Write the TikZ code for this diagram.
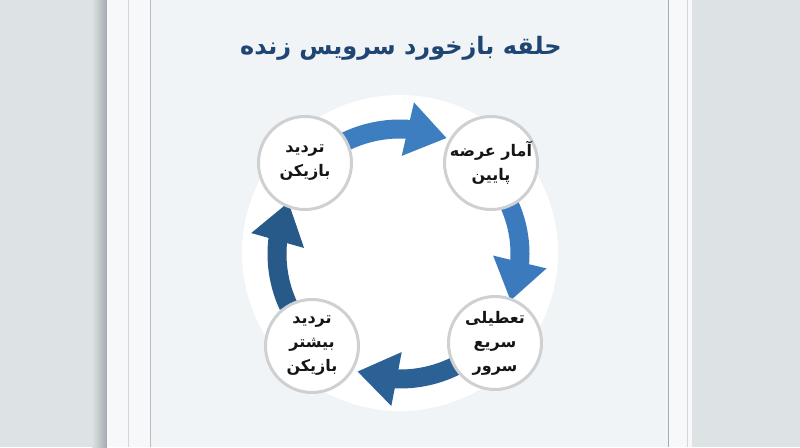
\documentclass[tikz,border=0pt]{standalone}
\usepackage{fontspec}
\newfontfamily\fa[Script=Arabic]{DejaVu Sans}
\TeXXeTstate=1
\usetikzlibrary{arrows.meta,bending}
\definecolor{bgc}{HTML}{DDE2E5}
\definecolor{shadowc}{HTML}{A3A9AE}
\definecolor{framec}{HTML}{F6F8F9}
\definecolor{panelc}{HTML}{F0F4F6}
\definecolor{lineA}{HTML}{D3D8DB}
\definecolor{lineB}{HTML}{B9BEC2}
\definecolor{lineC}{HTML}{A6ABAF}
\definecolor{titlec}{HTML}{1F4673}
\definecolor{ringc}{HTML}{CFD0D2}
\definecolor{txtc}{HTML}{151515}
\definecolor{arA}{HTML}{3D7EC0}
\definecolor{arB}{HTML}{3B7BBD}
\definecolor{arC}{HTML}{2C6196}
\definecolor{arD}{HTML}{285A89}
\tikzset{
  stage/.style={circle, draw=ringc, line width=3pt, fill=white, minimum size=93pt, inner sep=0pt,
    align=center, font=\fa\bfseries\fontsize{16}{24}\selectfont, text=txtc},
  looparrow/.style={line width=19pt, -{Triangle[length=40pt,width=52pt]}},
  titletext/.style={font=\fa\bfseries\fontsize{24}{28}\selectfont, text=titlec}
}
\begin{document}
\begin{tikzpicture}[x=1pt,y=1pt]
\useasboundingbox (0,0) rectangle (800,447);
\fill[bgc] (0,0) rectangle (800,447);
\shade[left color=bgc, right color=shadowc] (92,0) rectangle (107,447);
\fill[framec] (107,0) rectangle (692,447);
\draw[lineA, line width=0.6pt] (128,0) -- (128,447);
\fill[panelc] (150,0) rectangle (668,447);
\draw[lineB, line width=0.8pt] (150,0) -- (150,447);
\draw[lineC, line width=0.8pt] (668,0) -- (668,447);
\draw[lineA, line width=0.5pt] (687,0) -- (687,447);
\fill[white] (400,194) circle (158);
\coordinate (C) at (400,193);
\node[titletext] (title) at (401,399) {\beginR حلقه بازخورد سرویس زنده\endR};
\draw[looparrow, arA] ([shift={(120:125)}]C) arc[start angle=120, end angle=68, radius=125];
\draw[looparrow, arB] ([shift={(24:120)}]C) arc[start angle=24, end angle=-23, radius=120];
\draw[looparrow, arC] ([shift={(-62:125)}]C) arc[start angle=-62, end angle=-110, radius=125];
\draw[looparrow, arD] ([shift={(205:123)}]C) arc[start angle=205, end angle=155, radius=123];
\node[stage] (tl) at (305,284) {\beginR تردید\endR\\\beginR بازیکن\endR};
\node[stage] (tr) at (491,284) {\beginR آمار عرضه\endR\\\beginR پایین\endR};
\node[stage] (br) at (495,104) {\beginR تعطیلی\endR\\\beginR سریع\endR\\\beginR سرور\endR};
\node[stage] (bl) at (312,101) {\beginR تردید\endR\\\beginR بیشتر\endR\\\beginR بازیکن\endR};
\end{tikzpicture}
\end{document}
